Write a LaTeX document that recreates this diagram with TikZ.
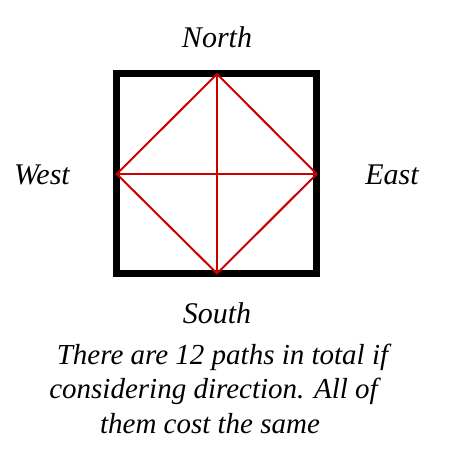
\documentclass[tikz,border=0pt]{standalone}
\usepackage{fontspec}
\setmainfont{Liberation Serif}
\begin{document}
\begin{tikzpicture}[x=1pt,y=-1pt,
  lbl/.style={font=\itshape\fontsize{30}{36}\selectfont, inner sep=0pt, anchor=base},
  captext/.style={font=\itshape\fontsize{29}{35}\selectfont, inner sep=0pt, anchor=base},
  edge/.style={draw=red!80!black, line width=2pt, line cap=round, line join=round}]
\useasboundingbox (0,0) rectangle (453,462);
\coordinate (N) at (217,74);
\coordinate (S) at (217,273.5);
\coordinate (W) at (116.7,174);
\coordinate (E) at (316.7,174);
\draw[line width=7pt] (116.7,74) rectangle (316.7,273.5);
\draw[edge] (N) -- (E) -- (S) -- (W) -- cycle;
\draw[edge] (N) -- (S);
\draw[edge] (W) -- (E);
\node[lbl] (north) at (217,48) {North};
\node[lbl] (south) at (217,323) {South};
\node[lbl] (west) at (42,185) {West};
\node[lbl] (east) at (392,185) {East};
\node[captext] (c1) at (222.5,364) {There are 12 paths in total if};
\node[captext] (c2) at (213.5,398) {considering direction. All of};
\node[captext] (c3) at (210,433) {them cost the same};
\end{tikzpicture}
\end{document}
